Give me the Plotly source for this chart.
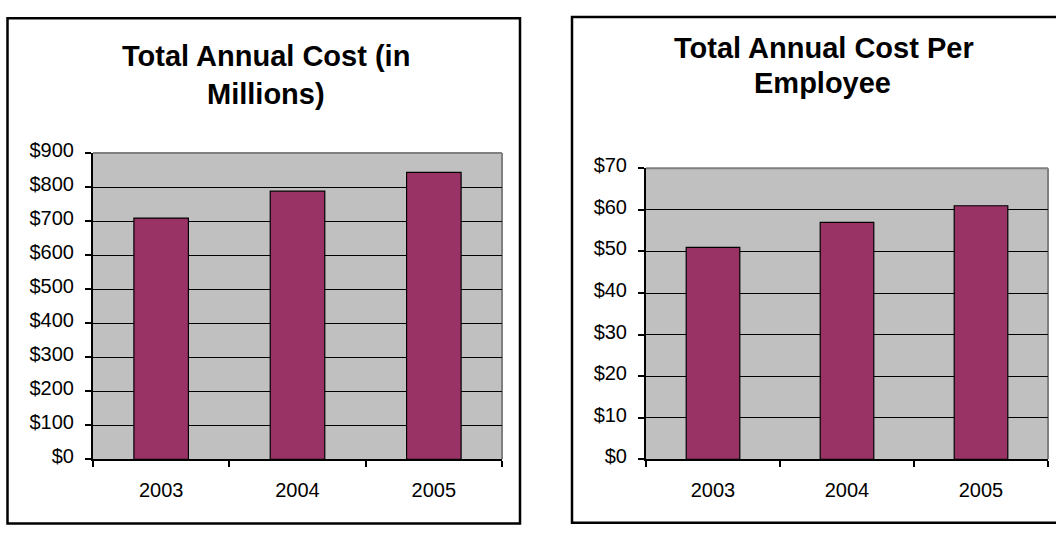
import plotly.graph_objects as go

years = ["2003", "2004", "2005"]
total_cost_millions = [709, 788, 843]
cost_per_employee = [51, 57, 61]

W, H = 1056, 533
def px_x(v):
    return v / W
def px_y(v):
    return (H - v) / H

FONT = "Arial, Liberation Sans, sans-serif"
BAR = "#993366"
BG = "#C0C0C0"

fig = go.Figure()
fig.add_trace(go.Bar(x=years, y=total_cost_millions, marker=dict(color=BAR, line=dict(color="black", width=1.2)),
                     xaxis="x", yaxis="y", showlegend=False, hoverinfo="x+y"))
fig.add_trace(go.Bar(x=years, y=cost_per_employee, marker=dict(color=BAR, line=dict(color="black", width=1.2)),
                     xaxis="x2", yaxis="y2", showlegend=False, hoverinfo="x+y"))

xcommon = dict(type="category", showgrid=False, showline=True, linecolor="black", linewidth=2,
               ticks="outside", tickson="boundaries", ticklen=6, tickwidth=2, tickcolor="black",
               tickfont=dict(family=FONT, size=20, color="black"), ticklabelstandoff=12, fixedrange=True)
ycommon = dict(showgrid=True, gridcolor="black", gridwidth=1, showline=True, linecolor="black", linewidth=2,
               ticks="outside", ticklen=6, tickwidth=2, tickcolor="black", tickprefix="$",
               tickfont=dict(family=FONT, size=20, color="black"), ticklabelstandoff=7, ticklabelshift=-3,
               zeroline=False, fixedrange=True)

fig.update_layout(
    width=W, height=H,
    margin=dict(l=0, r=0, t=0, b=0),
    paper_bgcolor="white", plot_bgcolor=BG,
    bargap=0.6,
    xaxis=dict(domain=[px_x(93), px_x(502)], anchor="y", **xcommon),
    yaxis=dict(domain=[px_y(464.5), px_y(145)], anchor="x", range=[0, 900], dtick=100, **ycommon),
    xaxis2=dict(domain=[px_x(646), px_x(1048)], anchor="y2", **xcommon),
    yaxis2=dict(domain=[px_y(464.5), px_y(161)], anchor="x2", range=[0, 70], dtick=10, **ycommon),
)

shapes = []
shapes.append(dict(type="rect", xref="paper", yref="paper", x0=px_x(7.5), x1=px_x(520), y0=px_y(531.5), y1=px_y(4.5),
                   line=dict(color="black", width=2.5), layer="above"))
shapes.append(dict(type="rect", xref="paper", yref="paper", x0=px_x(572), x1=px_x(1060), y0=px_y(530.7), y1=px_y(3),
                   line=dict(color="black", width=2.5), layer="above"))
for xa, ya in (("x", "y"), ("x2", "y2")):
    shapes.append(dict(type="line", xref=f"{xa} domain", yref=f"{ya} domain", x0=0, x1=1, y0=1, y1=1,
                       line=dict(color="#808080", width=2), layer="below"))
    shapes.append(dict(type="line", xref=f"{xa} domain", yref=f"{ya} domain", x0=1, x1=1, y0=0, y1=1,
                       line=dict(color="#808080", width=2), layer="below"))
fig.update_layout(shapes=shapes)

titles = [
    ("Total Annual Cost (in", 265.5, 43.4),
    ("Millions)", 265.5, 83.7),
    ("Total Annual Cost Per", 824, 35.7),
    ("Employee", 822, 72.3),
]
for txt, cx, cy in titles:
    fig.add_annotation(text=f"<b>{txt}</b>", xref="paper", yref="paper", x=px_x(cx), y=px_y(cy),
                       xanchor="center", yanchor="middle", showarrow=False,
                       font=dict(family=FONT, size=29, color="black"))

fig.write_html("out.html", config=dict(displayModeBar=False),
               post_script="document.body.style.margin='0';document.body.style.overflow='hidden';")
